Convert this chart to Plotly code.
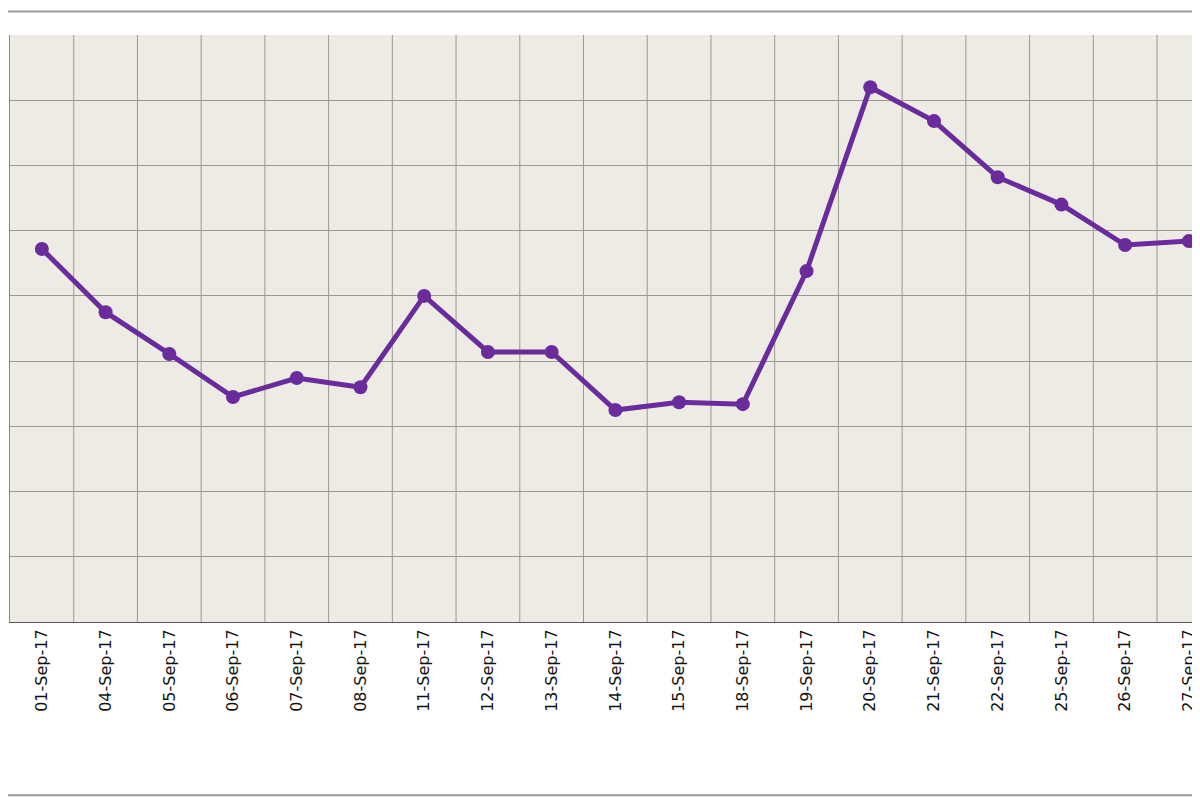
import plotly.graph_objects as go

dates = ["01-Sep-17","04-Sep-17","05-Sep-17","06-Sep-17","07-Sep-17","08-Sep-17",
         "11-Sep-17","12-Sep-17","13-Sep-17","14-Sep-17","15-Sep-17","18-Sep-17",
         "19-Sep-17","20-Sep-17","21-Sep-17","22-Sep-17","25-Sep-17","26-Sep-17",
         "27-Sep-17","28-Sep-17"]
values = [5.72,4.75,4.11,3.45,3.74,3.60,5.0,4.14,4.14,3.25,3.37,3.34,
          5.38,8.2,7.68,6.82,6.40,5.78,5.84,4.9]
idx = list(range(len(dates)))

fig = go.Figure(go.Scatter(
    x=idx, y=values, mode="lines+markers",
    line=dict(color="#6a2c9c", width=5),
    marker=dict(color="#6a2c9c", size=14),
))
fig.update_layout(
    width=1200, height=800,
    margin=dict(l=2, r=0, t=27, b=186),
    paper_bgcolor="white", plot_bgcolor="#edebe3",
    showlegend=False,
    font=dict(family="DejaVu Sans", size=16, color="#111"),
    xaxis=dict(range=[-0.5, 18.3], tickmode="array", tickvals=idx, ticktext=dates,
               tickangle=-90, showgrid=False, zeroline=False,
               showline=True, linecolor="#555", linewidth=1, ticks=""),
    yaxis=dict(range=[0, 9], dtick=1, showticklabels=False, gridcolor="#9a9a90",
               zeroline=False, showline=True, linecolor="#888", linewidth=1),
)
for i in range(19):
    fig.add_shape(type="line", xref="x", yref="y", x0=i+0.5, x1=i+0.5, y0=0, y1=9,
                  line=dict(color="#9a9a90", width=1), layer="below")
fig.add_shape(type="rect", xref="paper", yref="paper", x0=-0.01, x1=1.01, y0=-0.295, y1=1.04,
              line=dict(color="#999", width=2))
fig.write_html("out.html")
